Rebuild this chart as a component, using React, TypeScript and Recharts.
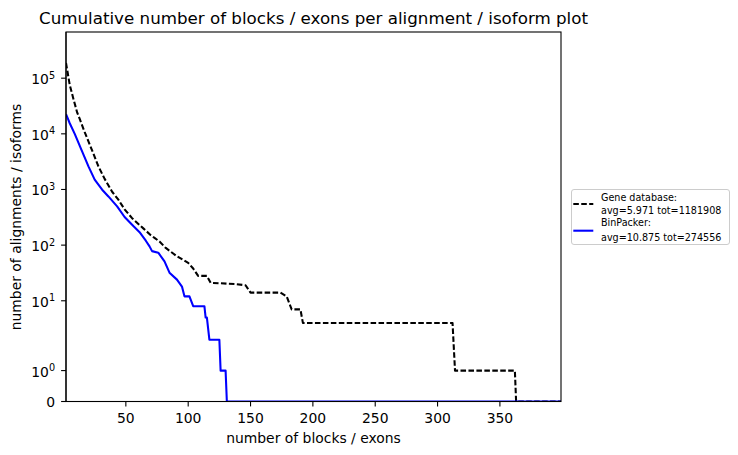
import { LineChart, Line, XAxis, YAxis } from 'recharts';

// x = number of blocks / exons, y = how many alignments / isoforms reach it
const GENE_X = [2, 5, 8, 11, 13, 17, 23, 28, 33, 39, 44, 49, 55, 61, 64, 70, 73, 77, 82, 91, 100, 104, 108, 115, 118, 138, 146, 150, 174, 179, 183, 190, 192, 312, 314, 362, 363, 399];
const GENE_Y = [188000, 76000, 42000, 24000, 18500, 10700, 5000, 2600, 1550, 910, 656, 440, 305, 230, 200, 151, 135, 116, 89, 63, 48, 38, 28, 28, 21, 20, 19, 14, 14, 12, 7, 7, 4, 4, 1, 1, 0, 0];

const BIN_X = [2, 5, 9, 15, 20, 25, 31, 36, 43, 49, 56, 61, 66, 69, 71, 76, 77, 81, 85, 91, 95, 97, 101, 104, 113, 114, 115, 117, 125, 126, 130, 131, 399];
const BIN_Y = [22600, 15500, 10000, 4800, 2600, 1500, 990, 750, 497, 320, 220, 171, 120, 95, 78, 73, 68, 51, 32, 24, 18, 12, 12, 8, 8, 5, 5, 2, 2, 1, 1, 0, 0];

const X_TICKS = [50, 100, 150, 200, 250, 300, 350];
const X_DOMAIN = [2, 399];
const Y_TICK_VALUES = [0, 1, 10, 100, 1000, 10000, 100000];
const Y_TOP = 676000;

const TITLE = 'Cumulative number of blocks / exons per alignment / isoform plot';
const X_LABEL = 'number of blocks / exons';
const Y_LABEL = 'number of alignments / isoforms';
const GENE_LABEL = ['Gene database:', 'avg=5.971 tot=1181908'];
const BIN_LABEL = ['BinPacker:', 'avg=10.875 tot=274556'];

const FONT = '"DejaVu Sans", sans-serif';

// matplotlib symlog, linthresh=2, linscale=1
const LINTHRESH = 2;
const LINSCALE_ADJ = 1 / (1 - 1 / 10);
function symlog(v: number) {
  const a = Math.abs(v);
  if (a <= LINTHRESH) return v * LINSCALE_ADJ;
  return Math.sign(v) * LINTHRESH * (LINSCALE_ADJ + Math.log10(a / LINTHRESH));
}

const Y_TICK_POS = Y_TICK_VALUES.map(symlog);
const Y_MAX = symlog(Y_TOP);

const geneData = GENE_X.map((x, i) => ({ x, y: symlog(GENE_Y[i]) }));
const binData = BIN_X.map((x, i) => ({ x, y: symlog(BIN_Y[i]) }));

const axisLine = { stroke: '#000', strokeWidth: 1.1 };

function YTick(props: any) {
  const { x, y, payload } = props;
  const idx = Y_TICK_POS.findIndex((p) => Math.abs(p - payload.value) < 1e-6);
  const v = Y_TICK_VALUES[idx];
  if (v === 0) {
    return (
      <text x={x} y={y + 5} textAnchor="end" fontSize={13.9} fontFamily={FONT} fill="#000">0</text>
    );
  }
  const exp = Math.round(Math.log10(v));
  return (
    <text x={x} y={y + 6} textAnchor="end" fontSize={13.9} fontFamily={FONT} fill="#000">
      10<tspan dy={-5.5} fontSize={9.7}>{exp}</tspan>
    </text>
  );
}

export default function App() {
  return (
    <div style={{ position: 'absolute', left: 0, top: 0, width: 738, height: 455, background: '#fff' }}>
      <LineChart width={738} height={455} margin={{ top: 32, right: 177, bottom: 23.5, left: 0 }}>
        <XAxis
          type="number"
          dataKey="x"
          domain={X_DOMAIN}
          ticks={X_TICKS}
          interval={0}
          allowDataOverflow
          height={30}
          tickSize={4.9}
          tickMargin={7}
          axisLine={axisLine}
          tickLine={axisLine}
          tick={{ fontSize: 13.9, fill: '#000', fontFamily: FONT }}
        />
        <YAxis
          type="number"
          dataKey="y"
          domain={[0, Y_MAX]}
          ticks={Y_TICK_POS}
          interval={0}
          allowDataOverflow
          width={66}
          tickSize={4.9}
          tickMargin={6}
          axisLine={axisLine}
          tickLine={axisLine}
          tick={<YTick />}
        />
        <Line
          data={geneData}
          dataKey="y"
          type="linear"
          stroke="#000"
          strokeWidth={2.08}
          strokeDasharray="5.55 2.4"
          strokeLinejoin="round"
          dot={false}
          isAnimationActive={false}
        />
        <Line
          data={binData}
          dataKey="y"
          type="linear"
          stroke="#0000ff"
          strokeWidth={2.08}
          strokeLinejoin="round"
          dot={false}
          isAnimationActive={false}
        />
      </LineChart>
      <svg
        width={738}
        height={455}
        style={{ position: 'absolute', left: 0, top: 0, pointerEvents: 'none' }}
        fontFamily={FONT}
      >
        {/* plot frame (top and right spines) */}
        <rect x={66} y={32} width={495} height={369.5} fill="none" stroke="#000" strokeWidth={1.1} />
        <text x={313.5} y={24} textAnchor="middle" fontSize={16.7} fill="#000">{TITLE}</text>
        <text x={313.5} y={443} textAnchor="middle" fontSize={13.9} fill="#000">{X_LABEL}</text>
        <text x={20.5} y={217} textAnchor="middle" fontSize={13.9} fill="#000" transform="rotate(-90 20.5 217)">
          {Y_LABEL}
        </text>
        <g transform="translate(571 189)">
          <rect x={0.5} y={0.5} width={158} height={55} rx={2.5} fill="#fff" fillOpacity={0.8} stroke="#cccccc" strokeWidth={1} />
          <line x1={2.3} x2={22.3} y1={15} y2={15} stroke="#000" strokeWidth={2.08} strokeDasharray="5.55 2.4" />
          <text x={30} fontSize={9.6} fill="#000">
            <tspan x={30} y={11.5}>{GENE_LABEL[0]}</tspan>
            <tspan x={30} y={24.8}>{GENE_LABEL[1]}</tspan>
          </text>
          <line x1={2.3} x2={22.3} y1={41.7} y2={41.7} stroke="#0000ff" strokeWidth={2.08} />
          <text x={30} fontSize={9.6} fill="#000">
            <tspan x={30} y={37}>{BIN_LABEL[0]}</tspan>
            <tspan x={30} y={51.5}>{BIN_LABEL[1]}</tspan>
          </text>
        </g>
      </svg>
    </div>
  );
}
